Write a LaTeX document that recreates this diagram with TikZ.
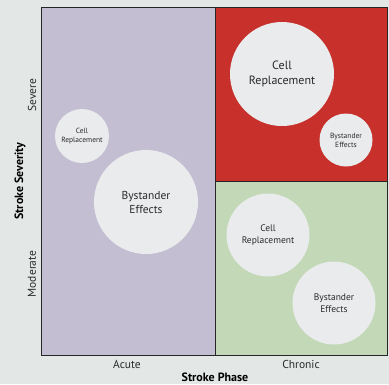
\documentclass[tikz,border=0pt]{standalone}
\usepackage{fontspec}
\setmainfont{PT Sans}
\definecolor{bg}{HTML}{E3E7E6}
\definecolor{lav}{HTML}{C4BED2}
\definecolor{redq}{HTML}{C7302B}
\definecolor{greenq}{HTML}{C3D8B6}
\definecolor{circ}{HTML}{E9EBEC}
\definecolor{txt}{HTML}{2A2A2A}
\tikzset{
  quad/.style={draw=black!85, line width=0.9pt},
  bubble/.style={circle, fill=circ, draw=none, inner sep=0pt, align=center, text=txt},
  axlab/.style={text=txt, font=\fontsize{11.5}{13}\selectfont},
  axtitle/.style={text=black, font=\fontsize{12}{13}\selectfont\bfseries}
}
\begin{document}
\begin{tikzpicture}[x=1pt,y=-1pt]
\fill[bg] (0,0) rectangle (389,384);
\useasboundingbox (0,0) rectangle (389,384);
\fill[lav] (41,7) rectangle (215,355);
\fill[redq] (215,7) rectangle (387,181);
\fill[greenq] (215,181) rectangle (387,355);
\draw[quad] (41,7) rectangle (387,355);
\draw[quad] (215,7) -- (215,355);
\draw[quad] (215,181) -- (387,181);
\node[bubble, minimum size=54pt, font=\fontsize{7.5}{9}\selectfont] (acr) at (82,136) {Cell\\Replacement};
\node[bubble, minimum size=104pt, font=\fontsize{11.5}{14}\selectfont] (abe) at (146,202) {Bystander\\Effects};
\node[bubble, minimum size=104pt, font=\fontsize{12}{14.5}\selectfont] (scr) at (282,74) {Cell\\Replacement};
\node[bubble, minimum size=53pt, font=\fontsize{7.5}{9}\selectfont] (sbe) at (346,140) {Bystander\\Effects};
\node[bubble, minimum size=83pt, font=\fontsize{9.5}{12}\selectfont] (mcr) at (268,235) {Cell\\Replacement};
\node[bubble, minimum size=83pt, font=\fontsize{9.5}{12}\selectfont] (mbe) at (334,303) {Bystander\\Effects};
\node[axlab, rotate=90] (sev) at (32,95) {Severe};
\node[axlab, rotate=90] (mod) at (32,274) {Moderate};
\node[axtitle, rotate=90] (ssev) at (20,181) {Stroke Severity};
\node[axlab] (acu) at (127,364) {Acute};
\node[axlab] (chr) at (301,364) {Chronic};
\node[axtitle] (sph) at (215,377) {Stroke Phase};
\end{tikzpicture}
\end{document}
